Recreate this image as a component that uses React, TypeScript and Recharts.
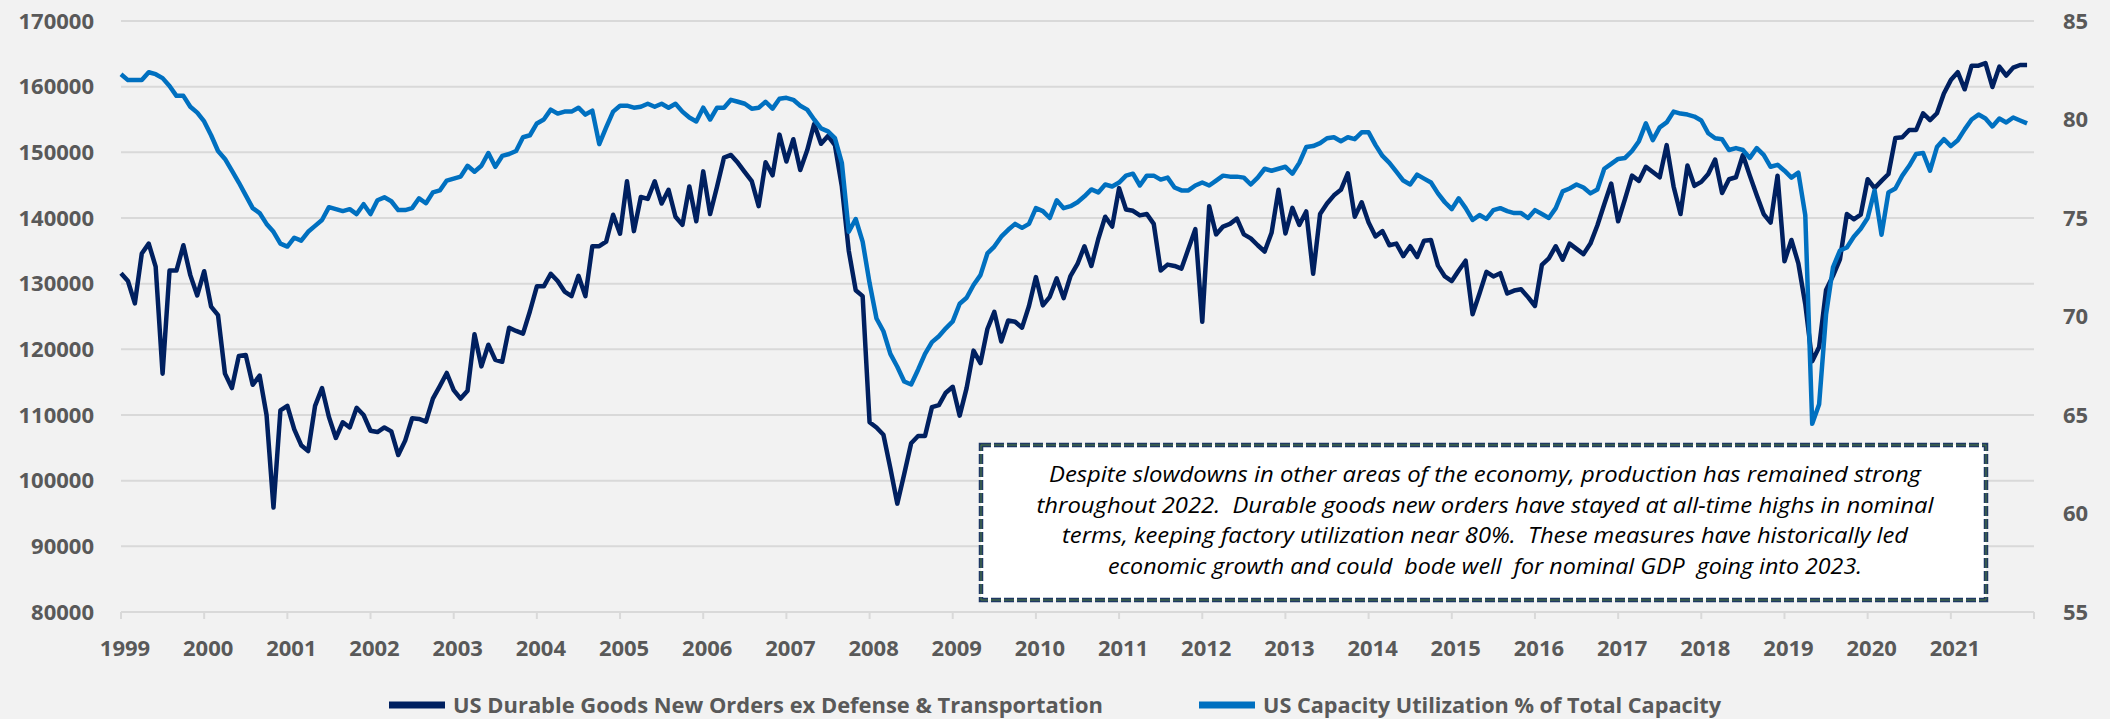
import React from 'react';
import { LineChart, Line, XAxis, YAxis, CartesianGrid } from 'recharts';

// category labels: one tick per year, monthly points in between
const years = [1999, 2000, 2001, 2002, 2003, 2004, 2005, 2006, 2007, 2008, 2009, 2010, 2011, 2012, 2013, 2014, 2015, 2016, 2017, 2018, 2019, 2020, 2021];
const monthNames = ['Jan', 'Feb', 'Mar', 'Apr', 'May', 'Jun', 'Jul', 'Aug', 'Sep', 'Oct', 'Nov', 'Dec'];

// US Durable Goods New Orders ex Defense & Transportation (left axis), one row per year
const orders = [
  131600, 130400, 127000, 134600, 136100, 132600, 116300, 132000, 132000, 135850, 131300, 128200,
  131900, 126500, 125200, 116300, 114100, 119000, 119150, 114600, 116000, 110000, 95900, 110700,
  111400, 107800, 105400, 104500, 111400, 114100, 109700, 106500, 108900, 108100, 111100, 110000,
  107600, 107400, 108100, 107500, 103900, 106100, 109500, 109400, 109000, 112500, 114400, 116400,
  113800, 112500, 113700, 122300, 117400, 120700, 118400, 118100, 123300, 122800, 122400, 125800,
  129600, 129600, 131500, 130400, 128800, 128100, 131200, 128100, 135700, 135700, 136400, 140500,
  137600, 145600, 138000, 143200, 142900, 145600, 142200, 144300, 140200, 138950, 144800, 139500,
  147100, 140600, 144800, 149200, 149600, 148400, 147000, 145600, 141800, 148500, 146500, 152700,
  148600, 152000, 147300, 150300, 154300, 151300, 152500, 151100, 144800, 135000, 129000, 128100,
  108900, 108100, 107000, 101900, 96500, 101000, 105700, 106800, 106800, 111200, 111500, 113400,
  114300, 109900, 114100, 119800, 117900, 123100, 125700, 121200, 124400, 124200, 123300, 126600,
  131000, 126700, 128000, 130800, 127800, 131200, 133000, 135700, 132700, 136800, 140200, 138700,
  144550, 141300, 141100, 140400, 140600, 139100, 132000, 132900, 132700, 132300, 135300, 138300,
  124200, 141800, 137500, 138700, 139100, 139900, 137500, 136900, 135850, 134900, 137750, 144300,
  137650, 141550, 138950, 141000, 131500, 140600, 142200, 143450, 144300, 146800, 140200, 142400,
  139300, 137200, 138000, 135850, 136100, 134200, 135700, 134050, 136550, 136650, 132750, 131100,
  130400, 132000, 133500, 125350, 128500, 131800, 131100, 131600, 128500, 128950, 129150, 127950,
  126600, 132850, 133850, 135700, 133650, 136100, 135300, 134500, 136100, 138850, 142100, 145250,
  139500, 142900, 146450, 145650, 147800, 147000, 146200, 151100, 144800, 140600, 148000, 144900,
  145500, 146700, 148900, 143800, 145900, 146200, 149600, 146450, 143450, 140600, 139300, 146450,
  133400, 136650, 133100, 126900, 118200, 120350, 129050, 131200, 133700, 140600, 139800, 140500,
  145900, 144550, 145650, 146700, 152200, 152300, 153400, 153400, 155950, 154900, 155950, 158950,
  161000, 162200, 159600, 163200, 163200, 163600, 159950, 163050, 161700, 162900, 163300, 163300,
];

// US Capacity Utilization % of Total Capacity (right axis)
const capacity = [
  82.3, 82.0, 82.0, 82.0, 82.4, 82.3, 82.1, 81.7, 81.2, 81.2, 80.65, 80.35,
  79.9, 79.2, 78.4, 78.0, 77.4, 76.8, 76.15, 75.5, 75.25, 74.7, 74.3, 73.7,
  73.55, 74.0, 73.85, 74.3, 74.6, 74.9, 75.55, 75.45, 75.35, 75.45, 75.2, 75.7,
  75.2, 75.9, 76.05, 75.85, 75.4, 75.4, 75.5, 76.0, 75.75, 76.3, 76.4, 76.9,
  77.0, 77.1, 77.65, 77.35, 77.65, 78.3, 77.6, 78.15, 78.25, 78.4, 79.1, 79.2,
  79.8, 80.0, 80.5, 80.3, 80.4, 80.4, 80.6, 80.25, 80.45, 78.75, 79.6, 80.4,
  80.7, 80.7, 80.6, 80.65, 80.8, 80.65, 80.8, 80.6, 80.8, 80.4, 80.1, 79.9,
  80.6, 80.0, 80.6, 80.6, 81.0, 80.9, 80.8, 80.55, 80.6, 80.9, 80.55, 81.05,
  81.1, 81.0, 80.7, 80.5, 80.0, 79.55, 79.4, 79.05, 77.8, 74.3, 74.95, 73.8,
  71.7, 69.9, 69.25, 68.1, 67.45, 66.7, 66.55, 67.3, 68.1, 68.7, 69.0, 69.4,
  69.75, 70.65, 70.95, 71.6, 72.1, 73.2, 73.55, 74.05, 74.4, 74.7, 74.5, 74.7,
  75.5, 75.35, 75.0, 75.9, 75.5, 75.6, 75.8, 76.1, 76.45, 76.3, 76.7, 76.6,
  76.8, 77.15, 77.25, 76.65, 77.15, 77.15, 76.95, 77.05, 76.55, 76.4, 76.4, 76.65,
  76.8, 76.65, 76.9, 77.15, 77.1, 77.1, 77.05, 76.7, 77.05, 77.5, 77.4, 77.5,
  77.6, 77.25, 77.8, 78.6, 78.65, 78.8, 79.05, 79.1, 78.9, 79.1, 79.0, 79.35,
  79.35, 78.7, 78.15, 77.8, 77.35, 76.9, 76.7, 77.2, 77.0, 76.8, 76.25, 75.8,
  75.45, 76.0, 75.5, 74.9, 75.15, 74.95, 75.4, 75.5, 75.35, 75.25, 75.25, 75.0,
  75.4, 75.2, 75.0, 75.5, 76.35, 76.5, 76.7, 76.55, 76.25, 76.45, 77.5, 77.75,
  78.0, 78.05, 78.4, 78.9, 79.8, 78.95, 79.6, 79.85, 80.4, 80.3, 80.25, 80.15,
  79.95, 79.3, 79.05, 79.0, 78.45, 78.55, 78.45, 78.05, 78.55, 78.2, 77.6, 77.7,
  77.4, 77.05, 77.3, 75.15, 64.55, 65.55, 70.1, 72.5, 73.35, 73.5, 74.05, 74.45,
  75.0, 76.4, 74.15, 76.3, 76.5, 77.15, 77.65, 78.25, 78.3, 77.4, 78.6, 79.0,
  78.65, 78.95, 79.5, 80.0, 80.25, 80.05, 79.65, 80.05, 79.85, 80.1, 79.95, 79.8,
];

const leftTicks = [80000, 90000, 100000, 110000, 120000, 130000, 140000, 150000, 160000, 170000];
const rightTicks = [55, 60, 65, 70, 75, 80, 85];

const ordersName = 'US Durable Goods New Orders ex Defense & Transportation';
const capacityName = 'US Capacity Utilization % of Total Capacity';

const noteLines = [
  'Despite slowdowns in other areas of the economy, production has remained strong',
  'throughout 2022.  Durable goods new orders have stayed at all-time highs in nominal',
  'terms, keeping factory utilization near 80%.  These measures have historically led',
  'economic growth and could  bode well  for nominal GDP  going into 2023.',
];

const NAVY = '#002060';
const BLUE = '#0070C0';
const GRID = '#D9D9D9';
const LABEL = '#595959';
const FONT = '"Open Sans", "DejaVu Sans", sans-serif';

const rows = orders.map((v, i) => ({
  idx: i,
  month: `${monthNames[i % 12]} ${years[Math.floor(i / 12)]}`,
  orders: v,
  capacity: capacity[i],
}));

// one tick every 12 months, plus the closing tick at the right end
const yearTicks = [...years.map((_, k) => k * 12), years.length * 12];

const axisText = { fill: LABEL, fontSize: 22, fontWeight: 700, fontFamily: FONT };

function YearTick(props: any) {
  const { x, y, payload } = props;
  const k = payload.value / 12;
  const label = k < years.length ? String(years[k]) : '';
  return (
    <text x={x + 4} y={y} dy="0.71em" textAnchor="middle" {...axisText}>
      {label}
    </text>
  );
}

// legend + note box drawn over the chart
function Overlay() {
  const lineW = [872, 897, 846, 754];
  return (
    <svg width={2110} height={719} style={{ position: 'absolute', left: 0, top: 0, pointerEvents: 'none' }}>
      <line x1={389} x2={445} y1={705} y2={705} stroke={NAVY} strokeWidth={7} />
      <text x={453} y={713} textLength={650} lengthAdjust="spacingAndGlyphs" {...axisText}>
        {ordersName}
      </text>
      <line x1={1199} x2={1255} y1={705} y2={705} stroke={BLUE} strokeWidth={7} />
      <text x={1263} y={713} textLength={458} lengthAdjust="spacingAndGlyphs" {...axisText}>
        {capacityName}
      </text>

      <rect x={981} y={445} width={1005} height={155} fill="#FFFFFF" />
      <rect x={981} y={445} width={1005} height={155} fill="none" stroke="#1F3864" strokeWidth={4.5} strokeDasharray="10 3" />
      <rect x={981} y={445} width={1005} height={155} fill="none" stroke="#4E7A3A" strokeWidth={1} strokeDasharray="10 3" />
      {noteLines.map((t, i) => (
        <text
          key={i}
          x={1485}
          y={482 + i * 30.7}
          textAnchor="middle"
          textLength={lineW[i]}
          lengthAdjust="spacingAndGlyphs"
          xmlSpace="preserve"
          style={{ whiteSpace: 'pre' }}
          fill="#000000"
          fontSize={21}
          fontStyle="italic"
          fontFamily={FONT}
        >
          {t}
        </text>
      ))}
    </svg>
  );
}

export default function App() {
  return (
    <div style={{ position: 'absolute', left: 0, top: 0, width: 2110, height: 719, background: '#F2F2F2', overflow: 'hidden' }}>
      <LineChart width={2110} height={719} data={rows} margin={{ top: 21, right: 0, bottom: 67, left: 0 }}>
        <CartesianGrid vertical={false} stroke={GRID} strokeWidth={2} />
        <XAxis
          dataKey="idx"
          type="number"
          domain={[0, years.length * 12]}
          ticks={yearTicks}
          interval={0}
          height={40}
          axisLine={{ stroke: GRID, strokeWidth: 2 }}
          tickLine={{ stroke: GRID, strokeWidth: 2 }}
          tickSize={7}
          tickMargin={21}
          tick={<YearTick />}
        />
        <YAxis
          domain={[80000, 170000]}
          ticks={leftTicks}
          interval={0}
          width={121}
          axisLine={false}
          tickLine={false}
          tickSize={0}
          tickMargin={27}
          tick={axisText}
        />
        <YAxis
          yAxisId="right"
          orientation="right"
          domain={[55, 85]}
          ticks={rightTicks}
          interval={0}
          width={76}
          axisLine={false}
          tickLine={false}
          tickSize={0}
          tickMargin={29}
          tick={axisText}
        />
        <Line
          dataKey="orders"
          name={ordersName}
          stroke={NAVY}
          strokeWidth={4.5}
          strokeLinejoin="round"
          dot={false}
          isAnimationActive={false}
        />
        <Line
          yAxisId="right"
          dataKey="capacity"
          name={capacityName}
          stroke={BLUE}
          strokeWidth={4.5}
          strokeLinejoin="round"
          dot={false}
          isAnimationActive={false}
        />
      </LineChart>
      <Overlay />
    </div>
  );
}
